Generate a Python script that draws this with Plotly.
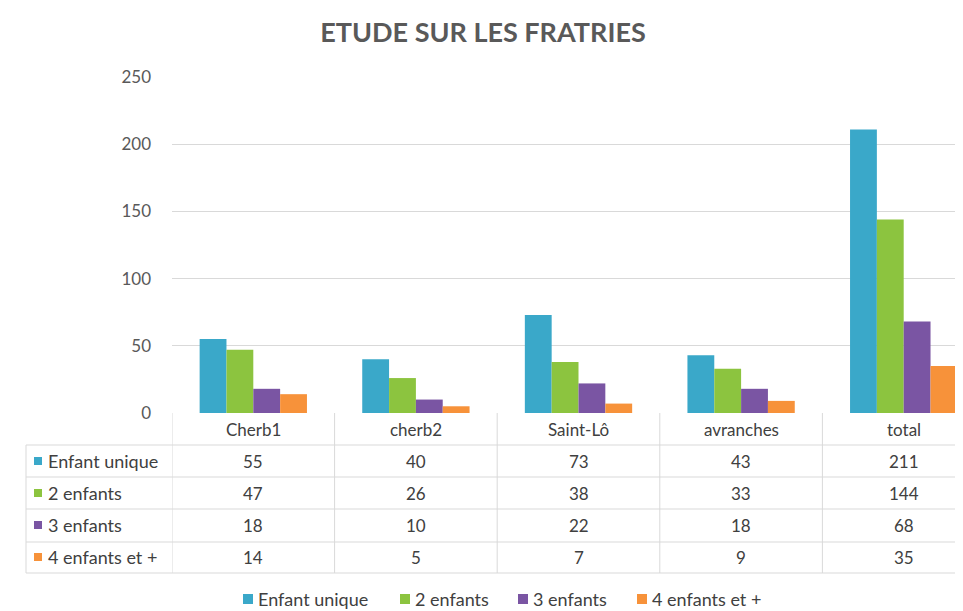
import plotly.graph_objects as go

categories = ["Cherb1", "cherb2", "Saint-Lô", "avranches", "total"]
series_names = ["Enfant unique", "2 enfants", "3 enfants", "4 enfants et +"]
enfant_unique = [55, 40, 73, 43, 211]
deux_enfants = [47, 26, 38, 33, 144]
trois_enfants = [18, 10, 22, 18, 68]
quatre_plus = [14, 5, 7, 9, 35]
y_ticks = [0, 50, 100, 150, 200, 250]

series_values = [enfant_unique, deux_enfants, trois_enfants, quatre_plus]
colors = ["#3AA8C9", "#8CC43F", "#7A55A3", "#F7923A"]

# page body has an 8px margin: size the figure so it fills the window
OFF = 8
W, H = 963 - OFF, 611 - OFF
L_ref, T_ref, Z_ref = 172, 77, 413          # reference pixel positions
L, T = L_ref - OFF, T_ref - OFF
B = H - (Z_ref - OFF)
plot_w = W - L
plot_h = H - T - B

def py(px):  # reference pixel y -> paper y
    return (Z_ref - px) / plot_h

def pxx(px):  # reference pixel x -> paper x
    return (px - L_ref) / plot_w

font_family = "Lato, 'Open Sans', sans-serif"
text_color = "#404040"
grid_color = "#D9D9D9"
fs = 17
fs_label = 18

xs = list(range(len(categories)))
fig = go.Figure()
for name, vals, col in zip(series_names, series_values, colors):
    fig.add_trace(go.Bar(x=xs, y=vals, name=name, marker=dict(color=col, line=dict(width=0)),
                         showlegend=False))

shapes = []
annotations = []

# table horizontal lines
row_lines = [445, 477, 509, 542, 573]
for yl in row_lines:
    shapes.append(dict(type="line", xref="paper", yref="paper", x0=pxx(26), x1=1.2,
                       y0=py(yl), y1=py(yl), line=dict(color=grid_color, width=1)))
# vertical lines
for k in range(len(categories) + 1):
    shapes.append(dict(type="line", xref="x", yref="paper", x0=k - 0.5, x1=k - 0.5,
                       y0=0, y1=py(573), line=dict(color=grid_color, width=1)))
shapes.append(dict(type="line", xref="paper", yref="paper", x0=pxx(26), x1=pxx(26),
                   y0=py(445), y1=py(573), line=dict(color=grid_color, width=1)))

# header row
for i, c in enumerate(categories):
    annotations.append(dict(x=i, y=py(429), xref="x", yref="paper", text=c, showarrow=False,
                            xanchor="center", yanchor="middle",
                            font=dict(size=fs, color=text_color, family=font_family)))

row_centers = [461, 493, 525, 557]
for r, (name, vals, col) in enumerate(zip(series_names, series_values, colors)):
    yc = row_centers[r]
    shapes.append(dict(type="rect", xref="paper", yref="paper", x0=pxx(34), x1=pxx(42),
                       y0=py(yc + 4), y1=py(yc - 4), fillcolor=col, line=dict(width=0)))
    annotations.append(dict(x=pxx(46), y=py(yc), xref="paper", yref="paper", text=name,
                            showarrow=False, xanchor="left", yanchor="middle",
                            font=dict(size=fs_label, color=text_color, family=font_family)))
    for i, v in enumerate(vals):
        annotations.append(dict(x=i, y=py(yc), xref="x", yref="paper", text=str(v), showarrow=False,
                                xanchor="center", yanchor="middle",
                                font=dict(size=fs, color=text_color, family=font_family)))

# legend (bottom)
legend_x = [243, 400, 518, 637]
legend_y = 599
for name, col, lx in zip(series_names, colors, legend_x):
    shapes.append(dict(type="rect", xref="paper", yref="paper", x0=pxx(lx), x1=pxx(lx + 10),
                       y0=py(legend_y + 5), y1=py(legend_y - 5), fillcolor=col, line=dict(width=0)))
    annotations.append(dict(x=pxx(lx + 13), y=py(legend_y), xref="paper", yref="paper", text=name,
                            showarrow=False, xanchor="left", yanchor="middle",
                            font=dict(size=fs_label, color=text_color, family=font_family)))

fig.update_layout(
    width=W, height=H,
    margin=dict(l=L, r=0, t=T, b=B, autoexpand=False),
    paper_bgcolor="white", plot_bgcolor="white",
    title=dict(text="<b>ETUDE SUR LES FRATRIES</b>", x=(483 - OFF) / W, xanchor="center",
               y=1 - (33 - OFF) / H, yanchor="middle",
               font=dict(size=27, color="#595959", family=font_family)),
    barmode="group", bargap=0.34, bargroupgap=0,
    xaxis=dict(range=[-0.5, -0.5 + plot_w / 162.6], showticklabels=False, showgrid=False,
               zeroline=False, showline=False, ticks=""),
    yaxis=dict(range=[0, 250], tickvals=y_ticks, showgrid=True, gridcolor=grid_color, gridwidth=1,
               zeroline=False, showline=False, ticks="", ticklabelstandoff=20,
               tickfont=dict(size=fs, color="#595959", family=font_family)),
    showlegend=False,
    shapes=shapes, annotations=annotations,
)

fig.write_html("out.html")
